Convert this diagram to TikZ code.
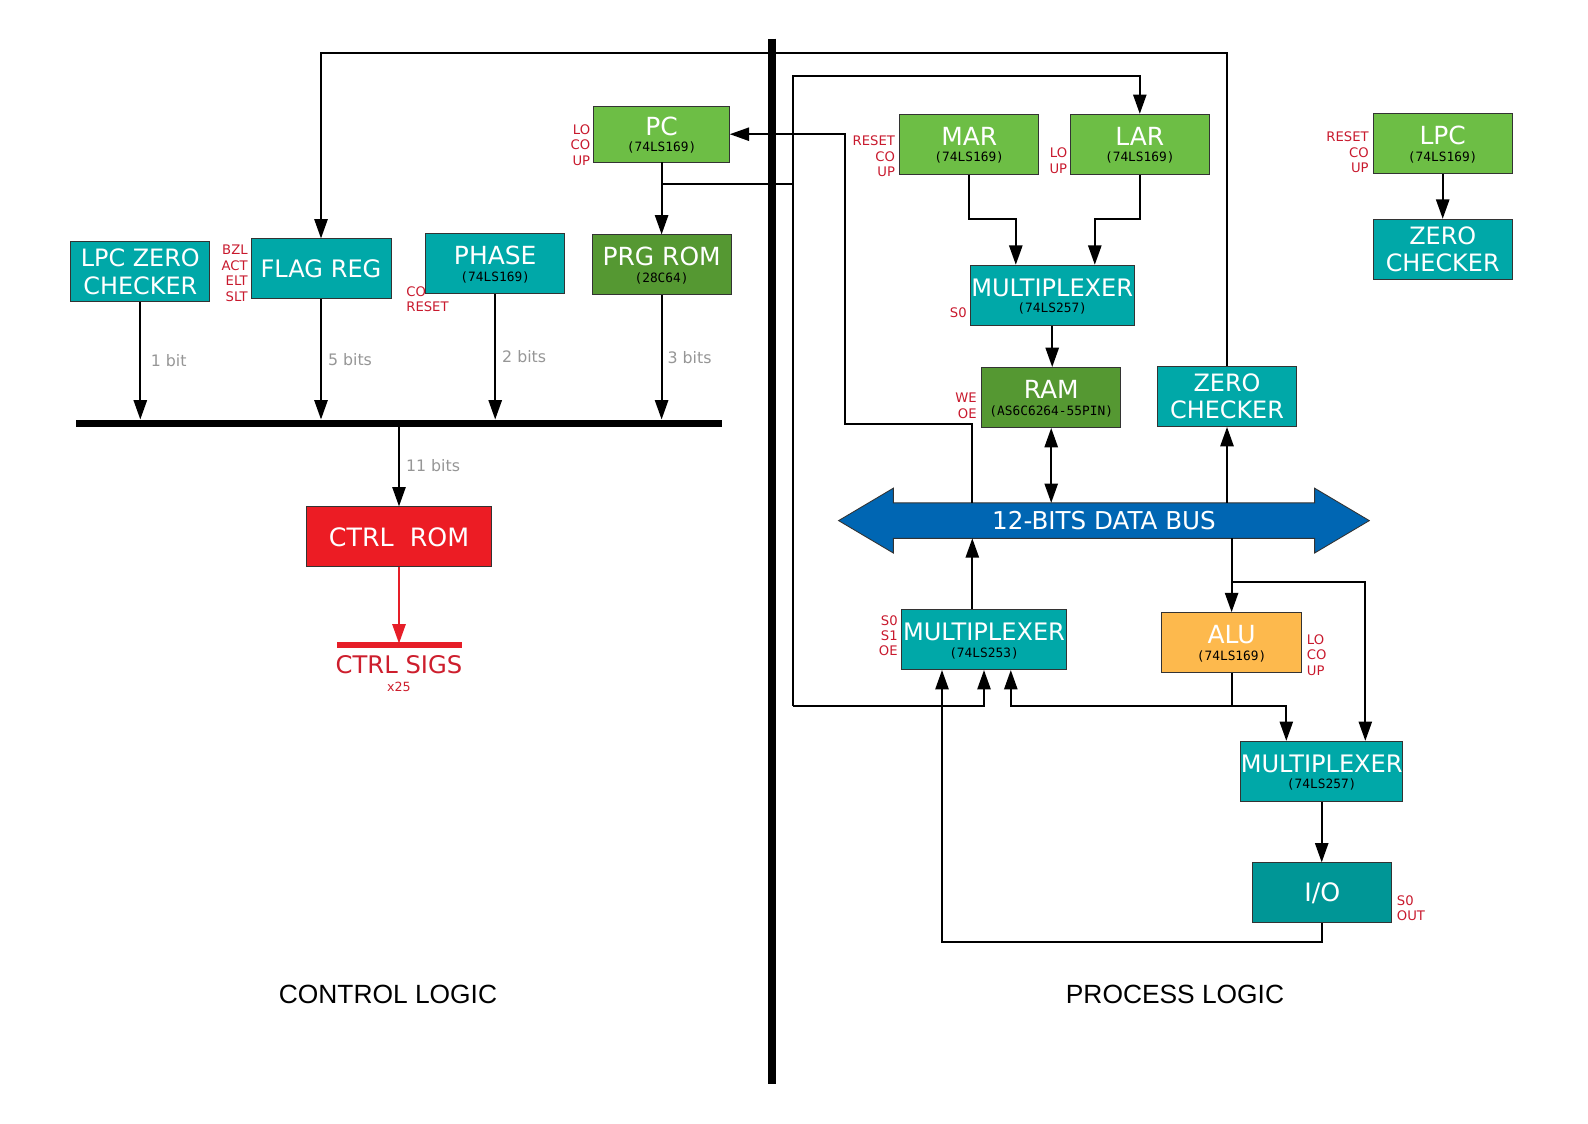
\documentclass[tikz,border=0pt]{standalone}
\usepackage{fontspec}
\setmainfont{DejaVu Sans}
\setmonofont{DejaVu Sans Mono}
\newfontfamily\secfont{Liberation Sans}
\usetikzlibrary{arrows.meta}

\definecolor{regg}{RGB}{109,190,69}
\definecolor{romg}{RGB}{85,152,50}
\definecolor{muxt}{RGB}{0,168,168}
\definecolor{iot}{RGB}{0,150,150}
\definecolor{ctrlr}{RGB}{236,28,36}
\definecolor{alun}{RGB}{253,185,77}
\definecolor{busb}{RGB}{0,102,179}
\definecolor{pinred}{RGB}{200,25,45}
\definecolor{sigred}{RGB}{205,30,45}
\definecolor{sigbar}{RGB}{230,30,40}
\definecolor{bitgray}{RGB}{150,150,150}

\tikzset{
  chip/.style={draw=black!80, line width=0.5pt, inner sep=0pt, align=center, text=white,
    minimum width=2.78cm, minimum height=1.2cm, font=\fontsize{14.2}{15.5}\selectfont},
  wire/.style={line width=1.15pt},
  arr/.style={wire, -{Triangle[length=11pt,width=7.5pt]}},
  darr/.style={wire, {Triangle[length=11pt,width=7.5pt]}-{Triangle[length=11pt,width=7.5pt]}},
  pins/.style={inner sep=0pt, text=pinred, font=\fontsize{7.5}{8.8}\selectfont},
  bits/.style={inner sep=0pt, text=bitgray, font=\fontsize{9}{10}\selectfont},
}
\newcommand{\chiptext}[2]{\rule{0pt}{11.5pt}#1\\[-6pt]{\fontsize{7.3}{8}\selectfont\ttfamily\color{black}#2}}

\begin{document}
\begin{tikzpicture}[x=0.02cm, y=-0.02cm]
\useasboundingbox (0,0) rectangle (1588,1123);

% divider
\draw[line width=4pt] (772,38.5) -- (772,1084);

% control logic
\node[chip, fill=regg, minimum width=2.71cm, minimum height=1.11cm] (pc) at (661.6,134.2) {\chiptext{PC}{(74LS169)}};
\node[chip, fill=romg] (prg) at (661.6,264.9) {\chiptext{PRG ROM}{(28C64)}};
\node[chip, fill=muxt] (phase) at (495.2,263.9) {\chiptext{PHASE}{(74LS169)}};
\node[chip, fill=muxt, minimum width=2.8cm, font=\fontsize{13.7}{15.5}\selectfont] (flag) at (321,268.9) {FLAG REG};
\node[chip, fill=muxt, font=\fontsize{13.6}{15.5}\selectfont] (lpczc) at (140.3,271.9) {LPC ZERO\\CHECKER};
\node[chip, fill=ctrlr, minimum width=3.69cm, font=\fontsize{14.4}{16}\selectfont] (ctrl) at (399,536.8) {CTRL\ \ ROM};

\node[pins, anchor=east, align=right] (pcpins) at (590.5,144.8) {LO\\CO\\UP};
\node[pins, anchor=east, align=right] (flagpins) at (248,273.4) {BZL\\ACT\\ELT\\SLT};
\node[pins, anchor=west, align=left] (phasepins) at (406,299.3) {CO\\RESET};

\coordinate (cbus) at (0,419.5);
\draw[line width=4pt] (76,423.3) -- (722,423.3);
\draw[arr] (lpczc.south) -- node[bits, right=0.19cm] (b1) {1 bit} (lpczc.south |- cbus);
\draw[arr] (flag.south) -- node[bits, right=0.12cm] (b5) {5 bits} (flag.south |- cbus);
\draw[arr] (phase.south) -- node[bits, right=0.12cm] (b2) {2 bits} (phase.south |- cbus);
\draw[arr] (prg.south) -- node[bits, right=0.1cm] (b3) {3 bits} (prg.south |- cbus);
\draw[arr] (ctrl.north |- 0,425) -- node[bits, right=0.12cm] (b11) {11 bits} (ctrl.north);
\draw[arr] (pc.south) -- (prg.north);

% control signals
\draw[sigbar, line width=3pt] (337,645) -- (462,645);
\draw[arr, sigbar] (ctrl.south) -- (ctrl.south |- 0,643.5);
\node[text=sigred, font=\fontsize{13.8}{15}\selectfont] (sigs) at (399,665) {CTRL SIGS};
\node[text=sigred, font=\fontsize{7.2}{8}\selectfont] (sigsn) at (399,687) {x25};

% process logic
\node[chip, fill=regg] (mar) at (969.2,144.3) {\chiptext{MAR}{(74LS169)}};
\node[chip, fill=regg] (lar) at (1139.8,144.3) {\chiptext{LAR}{(74LS169)}};
\node[chip, fill=muxt, minimum width=3.29cm, font=\fontsize{13.7}{15.5}\selectfont] (muxa) at (1052.2,295.2) {\chiptext{MULTIPLEXER}{(74LS257)}};
\node[chip, fill=romg] (ram) at (1051.2,397.5) {\chiptext{RAM}{(AS6C6264-55PIN)}};
\node[chip, fill=muxt, font=\fontsize{13.6}{15.5}\selectfont] (zca) at (1227,396.5) {ZERO\\CHECKER};
\node[chip, fill=regg] (lpc) at (1442.7,143.8) {\chiptext{LPC}{(74LS169)}};
\node[chip, fill=muxt, font=\fontsize{13.6}{15.5}\selectfont] (zcb) at (1442.7,249.2) {ZERO\\CHECKER};
\node[chip, fill=muxt, minimum width=3.3cm, font=\fontsize{13.7}{15.5}\selectfont] (muxb) at (984,639.6) {\chiptext{MULTIPLEXER}{(74LS253)}};
\node[chip, fill=alun, minimum width=2.8cm] (alu) at (1231.6,642.6) {\chiptext{ALU}{(74LS169)}};
\node[chip, fill=muxt, minimum width=3.24cm, font=\fontsize{13.7}{15.5}\selectfont] (muxc) at (1321.7,771.3) {\chiptext{MULTIPLEXER}{(74LS257)}};
\node[chip, fill=iot, font=\fontsize{14.4}{16}\selectfont] (io) at (1322.3,892.8) {I/O};

\node[pins, anchor=east, align=right] (marpins) at (895.3,156.5) {RESET\\CO\\UP};
\node[pins, anchor=east, align=right] (larpins) at (1067.5,160.5) {LO\\UP};
\node[pins, anchor=east, align=right] (muxapins) at (967,313) {S0};
\node[pins, anchor=east, align=right] (rampins) at (977,406) {WE\\OE};
\node[pins, anchor=east, align=right] (lpcpins) at (1369,152.3) {RESET\\CO\\UP};
\node[pins, anchor=east, align=right] (muxbpins) at (898,635.7) {S0\\S1\\OE};
\node[pins, anchor=west, align=left] (alupins) at (1306.6,654.8) {LO\\CO\\UP};
\node[pins, anchor=west, align=left] (iopins) at (1396.6,908) {S0\\OUT};

% data bus
\draw[draw=black!80, line width=0.5pt, fill=busb] (838.6,520.6) -- (893.3,488.2) -- (893.3,502.9)
  -- (1314.6,502.9) -- (1314.6,488.2) -- (1369.3,520.6) -- (1314.6,553) -- (1314.6,538.3)
  -- (893.3,538.3) -- (893.3,553) -- cycle;
\node[text=white, font=\fontsize{14}{15}\selectfont] (bus) at (1104,520.6) {12-BITS DATA BUS};
\coordinate (bustop) at (0,502.9);
\coordinate (busbot) at (0,538.3);

% wiring
\coordinate (topa) at (0,52.7);
\coordinate (topb) at (0,76);
\coordinate (pcbr) at (0,184.3);
\coordinate (lowy) at (0,706);
\coordinate (lpx) at (793,0);
\coordinate (fdx) at (972.3,0);
\coordinate (pcfx) at (844.7,424.4);
\coordinate (mq) at (1015.8,218.8);
\coordinate (lq) at (1094.8,218.8);
\coordinate (brk) at (1365.3,582.4);
\coordinate (mcl) at (1286.3,0);
\coordinate (mbr) at (1010.8,0);
\coordinate (mbl) at (942,942);

\draw[arr] (zca.north) -- (zca.north |- topa) -- (flag.north |- topa) -- (flag.north);
\draw[wire] (pc.south |- pcbr) -- (lpx |- pcbr);
\draw[arr] (lpx |- lowy) -- (lpx |- topb) -- (lar.north |- topb) -- (lar.north);
\draw[arr] (lpx |- lowy) -- (muxb.south |- lowy) -- (muxb.south);
\draw[arr] (fdx |- bustop) -- (fdx |- pcfx) -- (pcfx) -- (pcfx |- pc.east) -- (pc.east);
\draw[arr] (muxb.north -| fdx) -- (fdx |- busbot);
\draw[arr] (mar.south) |- (mq) -- (mq |- muxa.north);
\draw[arr] (lar.south) |- (lq) -- (lq |- muxa.north);
\draw[arr] (muxa.south) -- (muxa.south |- ram.north);
\draw[darr] (ram.south) -- (ram.south |- bustop);
\draw[arr] (zca.south |- bustop) -- (zca.south);
\draw[arr, line width=1.2pt] (alu.north |- busbot) -- (alu.north);
\draw[arr] (alu.north |- brk) -- (brk) -- (brk |- muxc.north);
\draw[wire, line width=1.2pt] (alu.south) -- (alu.south |- lowy);
\draw[arr] (alu.south |- lowy) -- (mcl |- lowy) -- (mcl |- muxc.north);
\draw[arr] (alu.south |- lowy) -- (mbr |- lowy) -- (mbr |- muxb.south);
\draw[arr] (muxc.south) -- (muxc.south |- io.north);
\draw[arr] (io.south) |- (mbl) -- (mbl |- muxb.south);
\draw[arr] (lpc.south) -- (zcb.north);

% section titles
\node[font=\secfont\fontsize{15}{17}\selectfont] (ctl) at (388,994.5) {CONTROL LOGIC};
\node[font=\secfont\fontsize{15}{17}\selectfont] (prl) at (1175,994.5) {PROCESS LOGIC};
\end{tikzpicture}
\end{document}
